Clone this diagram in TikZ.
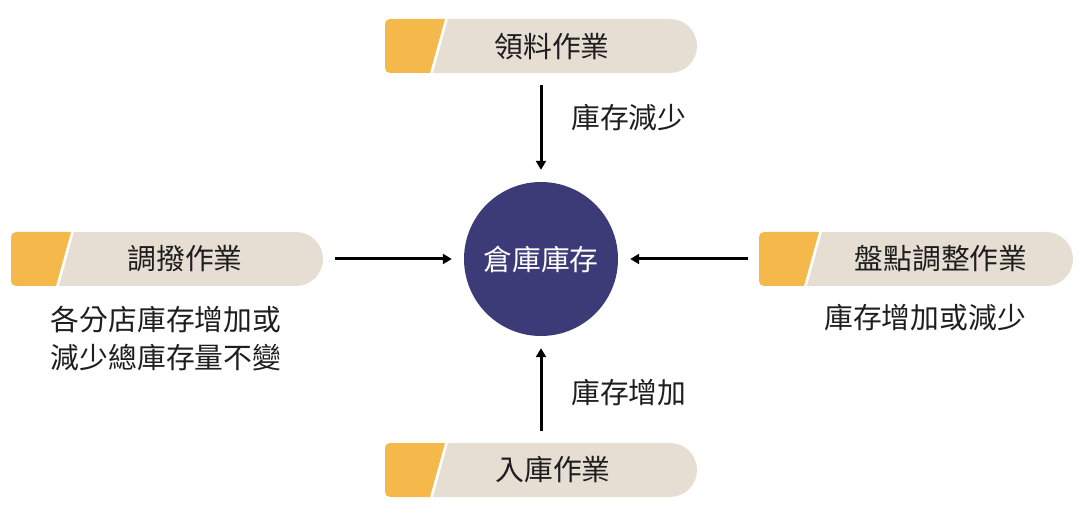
\documentclass[tikz,border=0pt]{standalone}
\usepackage{fontspec}
\setmainfont{Noto Sans CJK TC}
\usetikzlibrary{arrows.meta}

\definecolor{tabgold}{HTML}{F5B84A}
\definecolor{tabsand}{HTML}{E6DED3}
\definecolor{stockblue}{HTML}{3D3A78}
\definecolor{inkgray}{HTML}{1E1E1E}

% tab: #1 left, #2 top, #3 width
\newcommand\tasktab[3]{%
  \begin{scope}[shift={(#1,#2)}]
    \begin{scope}
      \clip (0,0) -- (60,0) -- (45,54) -- (0,54) -- cycle;
      \fill[tabgold, rounded corners=5pt] (0,0) rectangle (70,54);
    \end{scope}
    \begin{scope}
      \clip (63,0) -- (#3,0) -- (#3,54) -- (48,54) -- cycle;
      \fill[tabsand, rounded corners=27pt] (0,0) rectangle (#3,54);
    \end{scope}
  \end{scope}}

\begin{document}
\begin{tikzpicture}[x=1pt,y=-1pt]
\tikzstyle{every node}=[inner sep=0pt, text=inkgray, font=\fontsize{28.8}{38}\selectfont]
\tikzstyle{tabarea}=[minimum width=312pt, minimum height=54pt]
\tikzstyle{flow}=[line width=3pt, -{Triangle[length=9pt,width=10pt]}, shorten <=12pt, shorten >=12pt]
\useasboundingbox (0,0) rectangle (1080,513);
\tasktab{385}{19}{312}
\tasktab{11}{232}{312}
\tasktab{759}{232}{314}
\tasktab{385}{443}{312}
\draw (541,259) node (stock) [circle, fill=stockblue, minimum size=154pt, text=white] {倉庫庫存};
\draw (541,46) node (lingliao) [tabarea] {};
\draw (167,259) node (diaobo) [tabarea] {};
\draw (916,259) node (pandian) [tabarea] {};
\draw (541,470) node (ruku) [tabarea] {};
\draw (552,46) node (lingliaotext) {領料作業};
\draw (185,259) node (diaobotext) {調撥作業};
\draw (941,259) node (pandiantext) {盤點調整作業};
\draw (553,470) node (rukutext) {入庫作業};
\draw (571,118) node (jianshao) [anchor=west] {庫存減少};
\draw (571,393) node (zengjia) [anchor=west] {庫存增加};
\draw (166,339) node (diaobonote) [align=center] {各分店庫存增加或\\減少總庫存量不變};
\draw (925,318) node (pandiannote) {庫存增加或減少};
\draw[flow] (lingliao) -- (stock);
\draw[flow] (ruku) -- (stock);
\draw[flow] (diaobo) -- (stock);
\draw[flow] (pandian) -- (stock);
\end{tikzpicture}
\end{document}
